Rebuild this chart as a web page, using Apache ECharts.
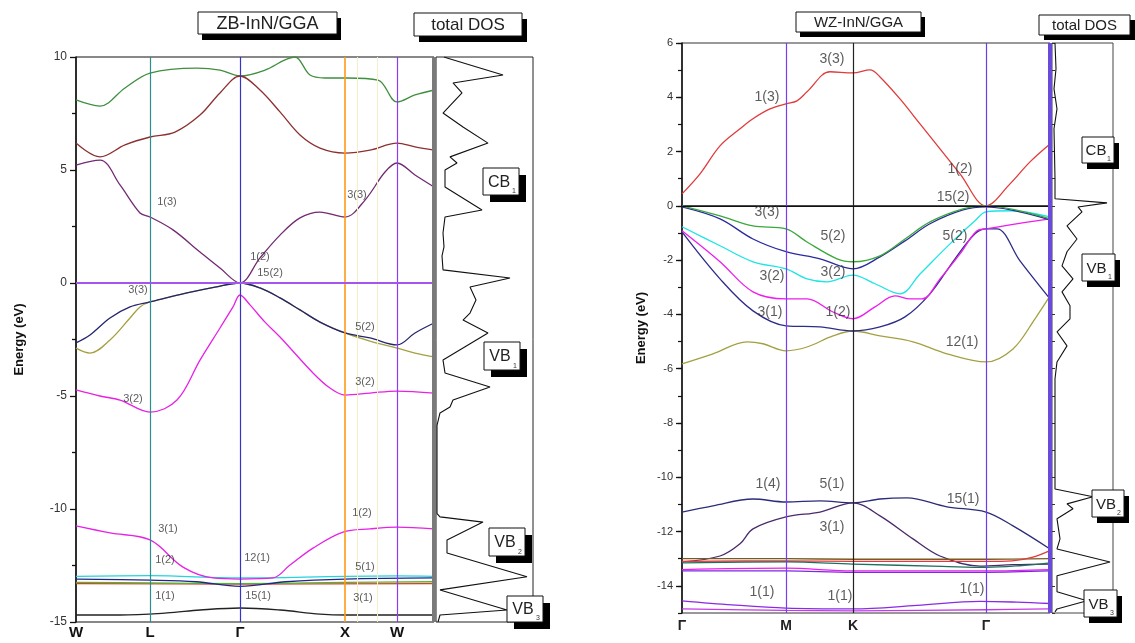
<!DOCTYPE html>
<html><head><meta charset="utf-8">
<script src="https://cdn.jsdelivr.net/npm/echarts@6/dist/echarts.min.js"></script>
<style>html,body{margin:0;padding:0;background:#fff}#c{width:1135px;height:643px}</style>
</head><body><div id="c"></div>
<script>
// ===== ZB-InN (GGA): k-path W-L-Γ-X-W, energies in eV =====
const zbKpts = [0, 74, 164, 269, 321];
const zbKnames = ['W', 'L', 'Γ', 'X', 'W'];
const zbKend = 358;
const zbYTicks = [-15, -10, -5, 0, 5, 10];

const zbGreen = [[0,8.10],[24,7.83],[49,8.63],[74,9.29],[121,9.51],[144,9.42],[164,9.16],[189,9.42],[209,9.87],[219,10.0],[234,9.20],[249,9.07],[271,9.07],[302,8.98],[321,8.01],[339,8.32],[358,8.54]];
const zbBrown = [[0,6.19],[24,5.58],[49,6.11],[74,6.46],[99,6.68],[124,7.43],[144,8.41],[164,9.16],[184,8.54],[204,7.57],[224,6.55],[244,5.97],[269,5.75],[294,5.88],[321,6.19],[339,6.02],[358,5.88]];
const zbCB1 = [[0,5.22],[24,5.44],[44,4.34],[64,3.10],[74,2.92],[97,2.35],[124,1.37],[144,0.66],[164,0],[184,1.11],[204,2.12],[224,2.88],[244,3.14],[269,2.92],[289,3.67],[309,4.91],[321,5.31],[339,4.78],[358,4.25]];
const zbVtop = [[0,-2.65],[14,-2.30],[34,-1.55],[54,-1.06],[74,-0.84],[111,-0.44],[139,-0.18],[164,0],[184,-0.22],[204,-0.66],[224,-1.19],[244,-1.73],[269,-2.21],[294,-2.43],[321,-2.74],[339,-2.21],[358,-1.77]];
const zbVolive = [[0,-2.88],[14,-3.10],[34,-2.52],[54,-1.55],[64,-1.06],[74,-0.84],[111,-0.44],[139,-0.18],[164,0],[184,-0.22],[204,-0.66],[224,-1.19],[244,-1.73],[269,-2.21],[294,-2.57],[321,-2.88],[339,-3.10],[358,-3.27]];
const zbVso = [[0,-4.73],[24,-5.00],[44,-5.18],[74,-5.71],[101,-5.18],[124,-3.41],[144,-1.99],[157,-1.06],[164,-0.53],[174,-0.97],[189,-1.73],[204,-2.39],[237,-3.98],[254,-4.65],[269,-4.96],[294,-4.87],[321,-4.78],[358,-4.87]];
const zbD1 = [[0,-10.75],[34,-11.06],[74,-11.37],[107,-12.57],[137,-13.05],[164,-13.10],[197,-13.05],[214,-12.48],[237,-11.73],[267,-11.02],[294,-10.88],[321,-10.80],[358,-10.88]];
const zbD2 = [[0,-12.98],[74,-12.95],[164,-13.05],[269,-12.98],[321,-12.96],[358,-12.98]];
const zbD3 = [[0,-13.10],[74,-13.15],[120,-13.22],[164,-13.42],[210,-13.22],[269,-13.10],[358,-13.05]];
const zbD4 = [[0,-13.25],[74,-13.27],[164,-13.30],[269,-13.25],[358,-13.22]];
const zbD5 = [[0,-13.30],[164,-13.32],[358,-13.30]];
const zbS = [[0,-14.69],[44,-14.69],[91,-14.60],[124,-14.47],[164,-14.38],[204,-14.47],[244,-14.65],[271,-14.69],[358,-14.69]];

const zbTags = [
  [91,3.58,'1(3)'],[184,1.15,'1(2)'],[194,0.44,'15(2)'],[62,-0.31,'3(3)'],[57,-5.13,'3(2)'],
  [281,3.89,'3(3)'],[289,-1.95,'5(2)'],[289,-4.38,'3(2)'],[92,-10.88,'3(1)'],[89,-12.26,'1(2)'],
  [181,-12.17,'12(1)'],[89,-13.85,'1(1)'],[182,-13.85,'15(1)'],[286,-10.18,'1(2)'],[289,-12.57,'5(1)'],[287,-13.94,'3(1)']
];

// total DOS for ZB-InN: [DOS (arb. units), energy]
const zbDos = [[8,10.0],[11,9.96],[67,9.2],[17,8.85],[26,8.41],[7,7.52],[27,6.9],[52,6.19],[14,5.58],[21,5.31],[9,5.0],[9,4.25],[46,3.23],[9,2.92],[7,2.21],[8,1.6],[6,1.2],[7,0.58],[74,0.22],[34,-0.18],[40,-0.75],[34,-1.33],[27,-1.64],[52,-2.21],[7,-3.41],[9,-3.98],[54,-4.6],[17,-5.18],[14,-5.49],[4,-5.75],[1,-6.3],[1,-10.2],[4,-10.35],[47,-10.58],[11,-11.37],[11,-11.95],[91,-13.0],[4,-13.58],[71,-14.47],[4,-14.69],[2,-15]];

// ===== WZ-InN (GGA): k-path Γ-M-K-Γ-A =====
const wzKpts = [0, 104, 171, 304];
const wzKnames = ['Γ', 'M', 'K', 'Γ'];
const wzKend = 368;
const wzYTicks = [-14, -12, -10, -8, -6, -4, -2, 0, 2, 4, 6];

const wzCB = [[0,0.44],[18,1.18],[38,2.21],[58,2.84],[71,3.21],[88,3.57],[104,3.76],[115,3.87],[125,4.20],[148,4.94],[171,4.90],[188,5.01],[198,4.75],[218,3.94],[238,3.02],[258,2.10],[278,1.18],[304,0],[328,0.81],[348,1.62],[368,2.28]];
const wzGreen = [[0,0],[38,-0.37],[71,-0.74],[104,-0.85],[125,-1.33],[155,-1.95],[171,-2.06],[198,-1.84],[223,-1.22],[248,-0.59],[281,-0.11],[304,0],[368,-0.48]];
const wzNavyA = [[0,-0.04],[38,-0.48],[71,-1.22],[104,-1.69],[138,-1.95],[171,-2.32],[198,-1.88],[223,-1.29],[248,-0.66],[281,-0.15],[304,-0.04],[368,-0.52]];
const wzCyan = [[0,-0.77],[38,-1.47],[71,-2.06],[104,-2.32],[125,-2.69],[145,-2.80],[171,-2.55],[193,-2.87],[218,-3.24],[238,-2.51],[268,-1.40],[293,-0.55],[304,-0.22],[328,-0.18],[368,-0.41]];
const wzMagenta = [[0,-0.92],[38,-2.06],[71,-3.17],[104,-3.43],[125,-3.43],[151,-3.91],[171,-4.16],[193,-3.72],[213,-3.32],[228,-3.43],[240,-3.43],[258,-2.69],[278,-1.77],[295,-0.92],[304,-0.85],[328,-0.70],[368,-0.48]];
const wzNavyB = [[0,-0.96],[38,-2.69],[71,-3.87],[104,-4.42],[138,-4.46],[171,-4.61],[198,-4.46],[223,-4.09],[248,-3.24],[273,-1.95],[293,-1.03],[304,-0.85],[315,-0.85],[338,-2.03],[368,-3.43]];
const wzOlive = [[0,-5.82],[31,-5.45],[65,-5.01],[81,-5.08],[104,-5.34],[125,-5.20],[151,-4.79],[171,-4.61],[198,-4.79],[231,-5.01],[265,-5.45],[304,-5.75],[331,-5.27],[353,-4.16],[368,-3.32]];
const wzNavyC = [[0,-11.28],[31,-11.05],[71,-10.80],[104,-10.91],[138,-10.87],[171,-10.94],[198,-10.80],[225,-10.76],[265,-11.09],[304,-11.28],[331,-11.79],[368,-12.64]];
const wzNavyD = [[0,-13.12],[38,-12.90],[58,-12.45],[71,-11.90],[104,-11.46],[138,-11.28],[171,-10.94],[198,-11.42],[231,-12.27],[258,-12.90],[298,-13.27],[331,-13.22],[368,-13.20]];
const wzBrown = [[0,-13.00],[104,-13.00],[171,-13.02],[304,-13.02],[368,-13.00]];
const wzRed = [[0,-13.10],[104,-13.08],[171,-13.10],[304,-13.10],[330,-13.08],[350,-12.95],[368,-12.70]];
const wzTeal = [[0,-13.15],[104,-13.12],[171,-13.20],[260,-13.28],[304,-13.32],[340,-13.25],[368,-13.15]];
const wzPink = [[0,-13.40],[104,-13.35],[171,-13.45],[304,-13.45],[368,-13.40]];
const wzViolet = [[0,-13.45],[104,-13.45],[171,-13.50],[304,-13.50],[368,-13.45]];
const wzS1 = [[0,-14.55],[50,-14.70],[104,-14.82],[171,-14.85],[235,-14.72],[298,-14.57],[335,-14.60],[368,-14.65]];
const wzS2 = [[0,-14.85],[104,-14.90],[171,-14.92],[304,-14.88],[368,-14.85]];

const wzTags = [
  [150,5.42,'3(3)'],[85,4.02,'1(3)'],[85,-0.22,'3(3)'],[151,-1.11,'5(2)'],[90,-2.58,'3(2)'],
  [151,-2.43,'3(2)'],[88,-3.91,'3(1)'],[156,-3.91,'1(2)'],[280,-5.01,'12(1)'],[86,-10.24,'1(4)'],
  [150,-10.24,'5(1)'],[150,-11.83,'3(1)'],[80,-14.22,'1(1)'],[158,-14.37,'1(1)'],[281,-10.80,'15(1)'],
  [290,-14.11,'1(1)'],[278,1.36,'1(2)'],[271,0.33,'15(2)'],[273,-1.11,'5(2)']
];

// total DOS for WZ-InN: [DOS (arb. units), energy]
const wzDos = [[3,6.0],[4,5.05],[2,4.31],[5,3.57],[2,2.84],[3,1.0],[3,0.26],[55,0.11],[26,-0.04],[30,-0.22],[15,-0.74],[25,-1.22],[15,-1.69],[10,-2.21],[21,-2.69],[10,-3.17],[18,-3.68],[18,-4.16],[5,-4.64],[15,-5.16],[5,-5.75],[3,-6.37],[3,-10.43],[41,-10.72],[15,-10.98],[21,-11.16],[5,-11.53],[8,-12.27],[5,-12.64],[58,-13.12],[5,-13.63],[5,-14.22],[35,-14.55],[5,-14.85],[3,-14.96]];

const FONT = 'Liberation Sans, Arial, sans-serif';

function band(xi, yi, data, color, z) {
  return {
    type: 'line', xAxisIndex: xi, yAxisIndex: yi, data: data,
    showSymbol: false, smooth: 0.35, silent: true, animation: false, z: z || 3,
    lineStyle: { color: color, width: 1.3 }
  };
}
function dos(xi, yi, data) {
  return {
    type: 'line', xAxisIndex: xi, yAxisIndex: yi, data: data,
    showSymbol: false, smooth: false, silent: true, animation: false, z: 3,
    lineStyle: { color: '#111', width: 1.1 }
  };
}
function tags(xi, yi, list, size) {
  return {
    type: 'scatter', xAxisIndex: xi, yAxisIndex: yi, silent: true, animation: false, z: 6,
    symbolSize: 1, itemStyle: { color: 'rgba(0,0,0,0)' },
    data: list.map(t => ({ value: [t[0], t[1]], name: t[2] })),
    label: { show: true, position: 'inside', formatter: '{b}', fontSize: size, color: '#333', fontFamily: FONT }
  };
}
function guides(xi, yi, lines) {
  return {
    type: 'line', xAxisIndex: xi, yAxisIndex: yi, data: [], silent: true, animation: false, z: 2,
    markLine: {
      silent: true, symbol: ['none', 'none'], animation: false, label: { show: false },
      data: lines.map(l => Object.assign({}, l.v, { lineStyle: { color: l.c, width: l.w || 1.2, type: 'solid' } }))
    }
  };
}

// annotation boxes with a solid drop shadow
function box(x, y, w, h, text, size, sub, dx, dy) {
  const els = [
    { type: 'rect', shape: { x: x + dx, y: y + dy, width: w, height: h }, style: { fill: '#000' }, z: 100 },
    { type: 'rect', shape: { x: x, y: y, width: w, height: h }, style: { fill: '#fff', stroke: '#111', lineWidth: 1 }, z: 101 },
    { type: 'text', x: x + w / 2 - (sub ? 2 : 0), y: y + h / 2 + 1, style: { text: text, fontSize: size, fontFamily: FONT, fill: '#222', align: 'center', verticalAlign: 'middle' }, z: 102 }
  ];
  if (sub) {
    els.push({ type: 'text', x: x + w - 5, y: y + h - 4, style: { text: sub, fontSize: 7, fontFamily: FONT, fill: '#333', align: 'center', verticalAlign: 'middle' }, z: 102 });
  }
  return els;
}

const chart = echarts.init(document.getElementById('c'), null, { renderer: 'canvas' });

const axisLineDark = { show: true, lineStyle: { color: '#111', width: 1.5 } };

const option = {
  backgroundColor: '#fff',
  animation: false,
  grid: [
    { left: 76, top: 57, width: 358, height: 565, show: true, borderColor: '#111', borderWidth: 1, backgroundColor: 'transparent' },
    { left: 436, top: 57, width: 97, height: 565, show: true, borderColor: '#222', borderWidth: 1, backgroundColor: 'transparent' },
    { left: 682, top: 43, width: 368, height: 570, show: true, borderColor: '#333', borderWidth: 1, backgroundColor: 'transparent' },
    { left: 1052, top: 43, width: 61, height: 570, show: true, borderColor: '#444', borderWidth: 1, backgroundColor: 'transparent' }
  ],
  xAxis: [
    { gridIndex: 0, type: 'value', min: 0, max: zbKend, axisLine: axisLineDark, axisTick: { show: false }, splitLine: { show: false },
      axisLabel: { customValues: zbKpts, formatter: v => zbKnames[zbKpts.indexOf(v)], fontWeight: 'bold', fontSize: 15, color: '#111', fontFamily: FONT, margin: 3 } },
    { gridIndex: 1, type: 'value', min: 0, max: 97, show: false },
    { gridIndex: 2, type: 'value', min: 0, max: wzKend, axisLine: axisLineDark, axisTick: { show: false }, splitLine: { show: false },
      axisLabel: { customValues: wzKpts, formatter: v => wzKnames[wzKpts.indexOf(v)], fontWeight: 'bold', fontSize: 14, color: '#222', fontFamily: FONT, margin: 6 } },
    { gridIndex: 3, type: 'value', min: 0, max: 61, show: false }
  ],
  yAxis: [
    { gridIndex: 0, type: 'value', min: -15, max: 10, interval: 5, axisLine: axisLineDark,
      axisTick: { show: true, length: 6, lineStyle: { color: '#111', width: 1.3 } },
      minorTick: { show: true, splitNumber: 2, length: 4, lineStyle: { color: '#111', width: 1.3 } },
      splitLine: { show: false }, minorSplitLine: { show: false },
      axisLabel: { customValues: zbYTicks, fontSize: 12, color: '#333', fontFamily: FONT, margin: 9 },
      name: 'Energy (eV)', nameLocation: 'middle', nameGap: 50, nameRotate: 90,
      nameTextStyle: { fontWeight: 'bold', fontSize: 13, color: '#111', fontFamily: FONT } },
    { gridIndex: 1, type: 'value', min: -15, max: 10, show: false },
    { gridIndex: 2, type: 'value', min: -15, max: 6, interval: 1, axisLine: axisLineDark,
      axisTick: { show: true, customValues: wzYTicks, length: 6, lineStyle: { color: '#111', width: 1.3 } },
      splitLine: { show: false },
      axisLabel: { customValues: wzYTicks, fontSize: 11, color: '#333', fontFamily: FONT, margin: 9 },
      name: 'Energy (eV)', nameLocation: 'middle', nameGap: 34, nameRotate: 90,
      nameTextStyle: { fontWeight: 'bold', fontSize: 13, color: '#111', fontFamily: FONT } },
    { gridIndex: 3, type: 'value', min: -15, max: 6, show: false },
    // minor ticks (every 1 eV) on the left energy axis of the WZ panel
    { gridIndex: 2, type: 'value', position: 'left', min: -15, max: 6, interval: 1, axisLine: { show: false },
      axisTick: { show: true, length: 4, lineStyle: { color: '#111', width: 1.2 } },
      axisLabel: { show: false }, splitLine: { show: false } },
    // small inner ticks along the left edge of the WZ DOS panel
    { gridIndex: 3, type: 'value', position: 'left', min: -15, max: 6, interval: 1, axisLine: { show: false },
      axisTick: { show: true, inside: true, length: 3, lineStyle: { color: '#333', width: 1 } },
      axisLabel: { show: false }, splitLine: { show: false } }
  ],
  series: [
    // ZB guide lines: high-symmetry points, Fermi level, panel edge
    guides(0, 0, [
      { v: { xAxis: 281 }, c: '#f6eec8', w: 1 }, { v: { xAxis: 301 }, c: '#f6eec8', w: 1 },
      { v: { xAxis: zbKpts[1] }, c: '#2a8f8a' }, { v: { xAxis: zbKpts[2] }, c: '#3434cc' },
      { v: { xAxis: zbKpts[3] }, c: '#ff9a1a', w: 1.6 }, { v: { xAxis: zbKpts[4] }, c: '#8a3cf0' },
      { v: { yAxis: 0 }, c: '#a455ee', w: 2.2 }, { v: { xAxis: zbKend }, c: '#7a7a7a', w: 4 }
    ]),
    band(0, 0, zbGreen, '#3f8f3f'),
    band(0, 0, zbBrown, '#8c3030'),
    band(0, 0, zbCB1, '#722a72'),
    band(0, 0, zbVolive, '#a4a040'),
    band(0, 0, zbVtop, '#24246e'),
    band(0, 0, zbVso, '#e622e6'),
    band(0, 0, zbD5, '#e03a2a'),
    band(0, 0, zbD4, '#4cb830'),
    band(0, 0, zbD3, '#24248a'),
    band(0, 0, zbD2, '#22d4dc'),
    band(0, 0, zbD1, '#e622e6'),
    band(0, 0, zbS, '#222'),
    tags(0, 0, zbTags, 11),
    dos(1, 1, zbDos),

    // WZ guide lines
    guides(2, 2, [
      { v: { xAxis: wzKpts[1] }, c: '#7a3cf0' }, { v: { xAxis: wzKpts[2] }, c: '#222' },
      { v: { xAxis: wzKpts[3] }, c: '#6a3cf0' }, { v: { yAxis: 0 }, c: '#111', w: 1.2 },
      { v: { xAxis: wzKend }, c: '#6a4ad8', w: 4 }
    ]),
    band(2, 2, wzCB, '#e03a3a'),
    band(2, 2, wzOlive, '#a4a040'),
    band(2, 2, wzNavyB, '#2c2c8a'),
    band(2, 2, wzMagenta, '#ee1cee'),
    band(2, 2, wzCyan, '#1ee4e4'),
    band(2, 2, wzNavyA, '#2a2aa0'),
    band(2, 2, wzGreen, '#3aa83a'),
    band(2, 2, wzNavyC, '#2c2c7a'),
    band(2, 2, wzNavyD, '#4a2a6a'),
    band(2, 2, wzBrown, '#7a5a20'),
    band(2, 2, wzRed, '#e03a3a'),
    band(2, 2, wzTeal, '#1f6f5f'),
    band(2, 2, wzPink, '#ee1cee'),
    band(2, 2, wzViolet, '#7a2ae0'),
    band(2, 2, wzS1, '#8a2ae6'),
    band(2, 2, wzS2, '#c43ae6'),
    tags(2, 2, wzTags, 14),
    dos(3, 3, wzDos)
  ],
  graphic: [].concat(
    box(198, 12, 139, 22, 'ZB-InN/GGA', 18, null, 4, 6),
    box(414, 13, 108, 23, 'total DOS', 17, null, 5, 6),
    box(796, 12, 125, 20, 'WZ-InN/GGA', 15, null, 4, 5),
    box(1039, 15, 91, 20, 'total DOS', 15, null, 5, 5),
    box(483, 168, 36, 27, 'CB', 16, '1', 7, 7),
    box(484, 342, 36, 28, 'VB', 16, '1', 7, 7),
    box(489, 528, 36, 28, 'VB', 16, '2', 7, 7),
    box(507, 596, 36, 26, 'VB', 16, '3', 7, 7),
    box(1082, 137, 32, 26, 'CB', 15, '1', 5, 6),
    box(1082, 254, 33, 27, 'VB', 15, '1', 5, 6),
    box(1092, 490, 32, 27, 'VB', 15, '2', 5, 6),
    box(1084, 590, 33, 27, 'VB', 15, '3', 5, 6)
  )
};
chart.setOption(option);
</script>
</body></html>
